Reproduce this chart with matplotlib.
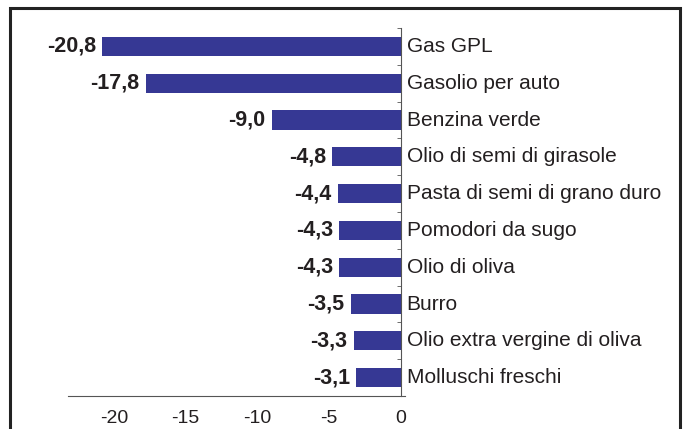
import numpy as np
import matplotlib.pyplot as plt
from matplotlib.patches import Rectangle

categories = ['Gas GPL', 'Gasolio per auto', 'Benzina verde', 'Olio di semi di girasole',
              'Pasta di semi di grano duro', 'Pomodori da sugo', 'Olio di oliva', 'Burro',
              'Olio extra vergine di oliva', 'Molluschi freschi']
values = [-20.8, -17.8, -9.0, -4.8, -4.4, -4.3, -4.3, -3.5, -3.3, -3.1]
xticks = [-20, -15, -10, -5, 0]

plt.rcParams['font.family'] = ['Liberation Sans', 'DejaVu Sans']

fig = plt.figure(figsize=(6.88, 4.29), dpi=100)
ax = fig.add_axes([68/688, 1-396/429, (405-68)/688, (396-28)/429])

y = np.arange(len(categories))
bar_color = '#363894'
ax.barh(y, values, height=0.52, color=bar_color)

ax.set_ylim(len(categories)-0.5, -0.5)
ax.set_xlim(-23.2, 0.28)

for yi, v, c in zip(y, values, categories):
    ax.annotate(f'{v:.1f}'.replace('.', ','), (v, yi), xytext=(-4.5, 0), textcoords='offset points',
                ha='right', va='center', fontsize=15.5, fontweight='bold', color='#231f20')
    ax.annotate(c, (0, yi), xytext=(4, 0), textcoords='offset points',
                ha='left', va='center', fontsize=15, color='#231f20')

for s in ['top', 'right']:
    ax.spines[s].set_visible(False)
ax.spines['left'].set_position(('data', 0))
ax.spines['left'].set_color('#555555')
ax.spines['bottom'].set_color('#555555')

ax.set_yticks([])
ax.set_yticks(np.arange(-0.5, len(categories), 1), minor=True)
ax.tick_params(axis='y', which='minor', direction='out', length=3, color='#555555')
ax.set_xticks(xticks)
ax.set_xticklabels([str(t) for t in xticks])
ax.tick_params(axis='x', length=0, pad=10, labelsize=14, labelcolor='#231f20')

fig.patches.append(Rectangle((10/688, -0.1), (680-10)/688, 1.1 - 8/429,
                             transform=fig.transFigure, fill=False,
                             edgecolor='#222222', linewidth=2.2))

fig.savefig('out.png', dpi=100)
